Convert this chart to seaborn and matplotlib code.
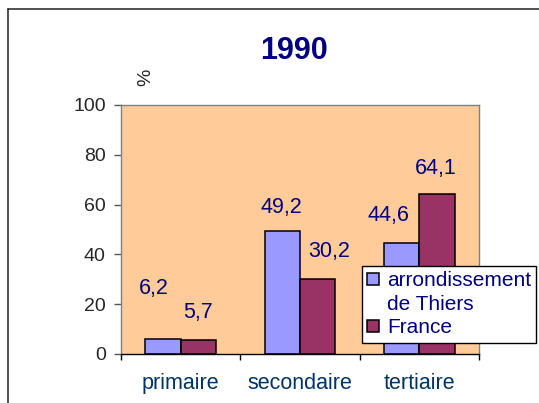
import seaborn as sns
import pandas as pd
from matplotlib import pyplot as plt
from matplotlib.patches import Patch
from matplotlib.lines import Line2D

# data
secteurs = ["primaire", "secondaire", "tertiaire"]
zones = ["arrondissement de Thiers", "France"]
thiers = [6.2, 49.2, 44.6]
france = [5.7, 30.2, 64.1]

BLUE = "#9999FF"
RED = "#993366"
NAVY = "#000080"

df = pd.DataFrame({
    "secteur": secteurs * 2,
    "zone": [zones[0]] * 3 + [zones[1]] * 3,
    "valeur": thiers + france,
})

sns.set_style("white")
plt.rcParams["font.family"] = ["Liberation Sans", "DejaVu Sans"]

DPI = 100
fig = plt.figure(figsize=(5.39, 4.03), dpi=DPI)
ax = fig.add_axes([121 / 539, 1 - 354 / 403, 358 / 539, 249 / 403])
ax.set_facecolor("#FFCC99")

sns.barplot(data=df, x="secteur", y="valeur", hue="zone", palette=[BLUE, RED],
            saturation=1, width=0.59, edgecolor="black", linewidth=1.1,
            legend=False, ax=ax)

# value labels (Excel placed them a bit irregularly): nudges in pixels
nudge_x = [[-9, -1, -13], [0, 12, -1]]
nudge_y = [[50, 24, 27], [27, 27, 26]]
px = 72 / DPI
for i, cont in enumerate(ax.containers):
    for j, bar in enumerate(cont):
        h = bar.get_height()
        ax.annotate(f"{h:.1f}".replace(".", ","),
                    xy=(bar.get_x() + bar.get_width() / 2, h),
                    xytext=(nudge_x[i][j] * px, nudge_y[i][j] * px),
                    textcoords="offset points", ha="center", va="center",
                    fontsize=15.5, color=NAVY)

ax.set_ylim(0, 100)
ax.set_xlim(-0.5, 2.5)
ax.set_yticks(range(0, 101, 20))
ax.set_xticks([-0.5, 0.5, 1.5, 2.5])
ax.set_xticklabels([])
ax.set_xticks([0, 1, 2], minor=True)
ax.set_xticklabels(secteurs, minor=True)
ax.tick_params(axis="x", which="minor", length=0, pad=14, labelsize=15.5, labelcolor="#003366")
ax.tick_params(axis="x", which="major", length=4.5, width=1, color="black", direction="out")
ax.tick_params(axis="y", length=5, width=1, color="#555555", direction="out", pad=6, labelsize=14)
ax.tick_params(left=True, bottom=True)
ax.set_xlabel("")
ax.set_ylabel("")
for s in ["top", "right", "left"]:
    ax.spines[s].set_color("#808080")
    ax.spines[s].set_linewidth(1)
ax.spines["bottom"].set_color("black")
ax.spines["bottom"].set_linewidth(1)

handles = [Patch(facecolor=BLUE, edgecolor="black", linewidth=1.1),
           Patch(facecolor="none", edgecolor="none"),
           Patch(facecolor=RED, edgecolor="black", linewidth=1.1)]
leg = ax.legend(handles, ["arrondissement", "de Thiers", "France"],
                loc="upper left", bbox_to_anchor=(362 / 539, 1 - 266 / 403),
                bbox_transform=fig.transFigure, borderaxespad=0,
                fontsize=15, handlelength=0.55, handleheight=0.55,
                handletextpad=0.4, borderpad=0.25, labelspacing=0.22,
                fancybox=False, framealpha=1, edgecolor="black")
leg.get_frame().set_linewidth(1)
for t in leg.get_texts():
    t.set_color(NAVY)

fig.text(294 / 539, 1 - 51 / 403, "1990", ha="center", va="center",
         fontsize=22, fontweight="bold", color=NAVY)
fig.text(146 / 539, 1 - 77 / 403, "%", ha="center", va="center",
         fontsize=14, rotation=90)

# outer chart frame (cut by the image edges)
fig.add_artist(Line2D([8 / 539, 8 / 539], [1 - 9 / 403, 0], color="#222222", lw=1.1))
fig.add_artist(Line2D([8 / 539, 1], [1 - 9 / 403, 1 - 9 / 403], color="#222222", lw=1.1))

fig.savefig("out.png", dpi=DPI)
